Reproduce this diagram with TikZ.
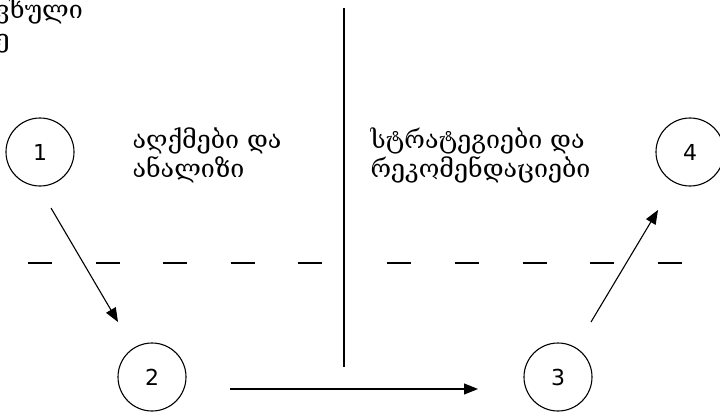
\documentclass[tikz,border=0pt]{standalone}
\usepackage{fontspec}
\setmainfont{DejaVu Sans}
\newfontfamily\geofont{DejaVu Serif}
\usetikzlibrary{arrows.meta}
\usetikzlibrary{positioning}

\begin{document}
\begin{tikzpicture}[x=1pt, y=-1pt, >={Triangle[length=14pt, width=11pt]}, line width=1.1pt]
  \tikzset{stage/.style={circle, draw, minimum size=68pt, inner sep=0pt, font=\fontsize{22}{24}\selectfont}}
  \tikzset{phase/.style={anchor=base west, align=left, inner sep=0pt, font=\geofont\fontsize{25}{29}\selectfont}}
  \useasboundingbox (0,0) rectangle (720,412);

  \node[stage] (s1) at (40,152)  {1};
  \node[stage] (s2) at (152,377) {2};
  \node[stage] (s3) at (558,377) {3};
  \node[stage] (s4) at (690,152) {4};

  % anchor is the baseline of the last line
  \node[phase] (obs) at (-5,48) {ვხული\\ე};
  \node[phase] (ana) at (132,177) {აღქმები და\\ანალიზი};
  \node[phase] (rec) at (370,177) {სტრატეგიები და\\რეკომენდაციები};

  % middle divider and the dashed level
  \draw (344,8) -- (344,367);
  \draw[dash pattern=on 24pt off 43.5pt] (28,263) -- (322,263);
  \draw[dash pattern=on 24pt off 43.75pt] (387,263) -- (682,263);

  % cycle
  \draw[->] ([shift={(11,56)}]s1.center) -- ([shift={(-34,-55)}]s2.center);
  \draw[->] ([shift={(78,12)}]s2.center) -- ([shift={(-80,12)}]s3.center);
  \draw[->] ([shift={(33,-55)}]s3.center) -- ([shift={(-32,58)}]s4.center);
\end{tikzpicture}
\end{document}
